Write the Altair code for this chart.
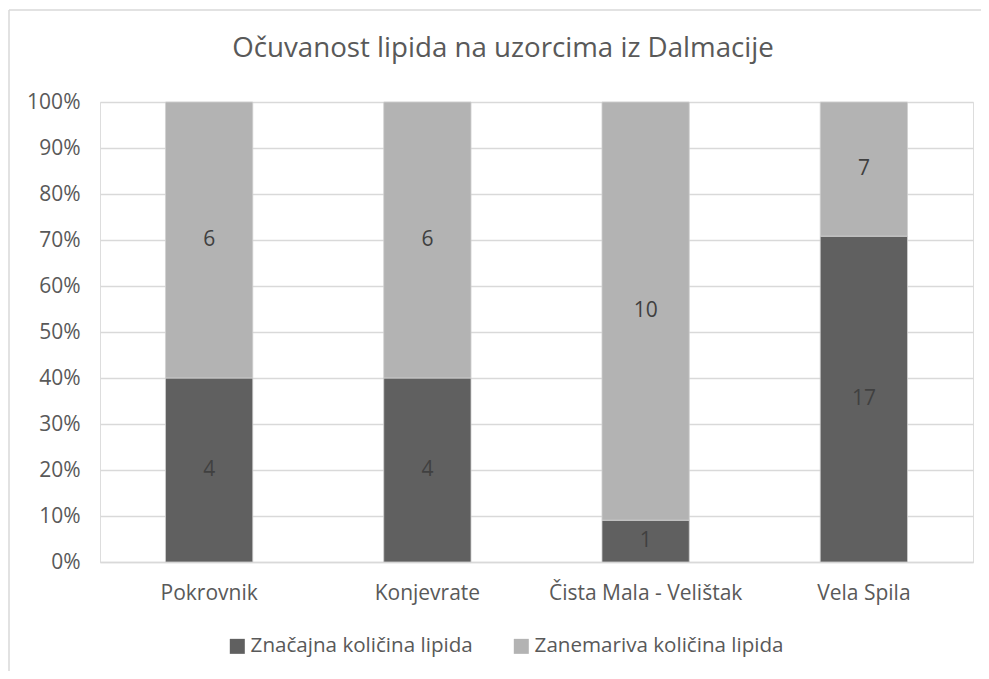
import altair as alt
import pandas as pd

sites = ["Pokrovnik", "Konjevrate", "Čista Mala - Velištak", "Vela Spila"]
significant = [4, 4, 1, 17]
negligible = [6, 6, 10, 7]
series_names = ["Značajna količina lipida", "Zanemariva količina lipida"]
colors = ["#606060", "#b3b3b3"]
title_text = "Očuvanost lipida na uzorcima iz Dalmacije"

rows = []
for s, a, b in zip(sites, significant, negligible):
    rows.append({"site": s, "series": series_names[0], "value": a, "ord": 0})
    rows.append({"site": s, "series": series_names[1], "value": b, "ord": 1})
df = pd.DataFrame(rows)

FONT = "Open Sans"
TXT = "#595959"

base = alt.Chart(df).transform_stack(
    stack="value", groupby=["site"], sort=[alt.SortField("ord")],
    as_=["v0", "v1"], offset="normalize"
).transform_calculate(mid="(datum.v0 + datum.v1) / 2")

xenc = alt.X("site:N", sort=sites, title=None,
             scale=alt.Scale(paddingInner=0.6, paddingOuter=0.3),
             axis=alt.Axis(labelAngle=0, labelFontSize=21, labelColor=TXT, labelFont=FONT,
                           labelPadding=20, labelLimit=0, ticks=False, domain=True,
                           domainColor="#d9d9d9", domainWidth=1.5, grid=False))

bars = base.mark_bar(stroke="#d0d0d0", strokeWidth=0.8).encode(
    x=xenc,
    y=alt.Y("v0:Q", title=None, scale=alt.Scale(domain=[0, 1]),
            axis=alt.Axis(values=[i / 10 for i in range(11)], format=".0%", labelFontSize=21,
                          labelColor=TXT, labelFont=FONT, labelPadding=20, domain=False,
                          ticks=False, grid=True, gridColor="#d9d9d9", gridWidth=1.5)),
    y2="v1:Q",
    color=alt.Color("series:N", sort=series_names,
                    scale=alt.Scale(domain=series_names, range=colors),
                    legend=alt.Legend(title=None, orient="none", direction="horizontal",
                                      legendX=127, legendY=534, symbolType="square",
                                      symbolSize=225, symbolStrokeWidth=0, labelFontSize=20.6,
                                      labelColor=TXT, labelFont=FONT, labelLimit=0,
                                      columnPadding=38, symbolOffset=0, labelOffset=3)),
)

labels = base.mark_text(fontSize=21, color="#404040", font=FONT, baseline="middle").encode(
    x=alt.X("site:N", sort=sites),
    y=alt.Y("mid:Q"),
    text="value:Q",
)

frame = pd.DataFrame({"a": [0]})
border_top = alt.Chart(frame).mark_rule(color="#d9d9d9", strokeWidth=1.5, clip=False).encode(
    x=alt.value(-91), x2=alt.value(900), y=alt.value(-92))
border_left = alt.Chart(frame).mark_rule(color="#d9d9d9", strokeWidth=1.5, clip=False).encode(
    x=alt.value(-91), y=alt.value(-92), y2=alt.value(600))

title = alt.Chart(pd.DataFrame({"t": [title_text]})).mark_text(
    fontSize=27.7, color=TXT, font=FONT, baseline="middle", align="center"
).encode(x=alt.value(403), y=alt.value(-53), text="t:N")

chart = alt.layer(border_top, border_left, title, bars, labels).properties(
    width=873, height=460,
    autosize=alt.AutoSizeParams(type="none"),
    padding={"left": 92, "top": 94, "right": 8, "bottom": 109},
).configure_view(stroke=None).configure(font=FONT, background="white")

chart.save("out.html", embed_options={"renderer": "svg", "actions": False})
